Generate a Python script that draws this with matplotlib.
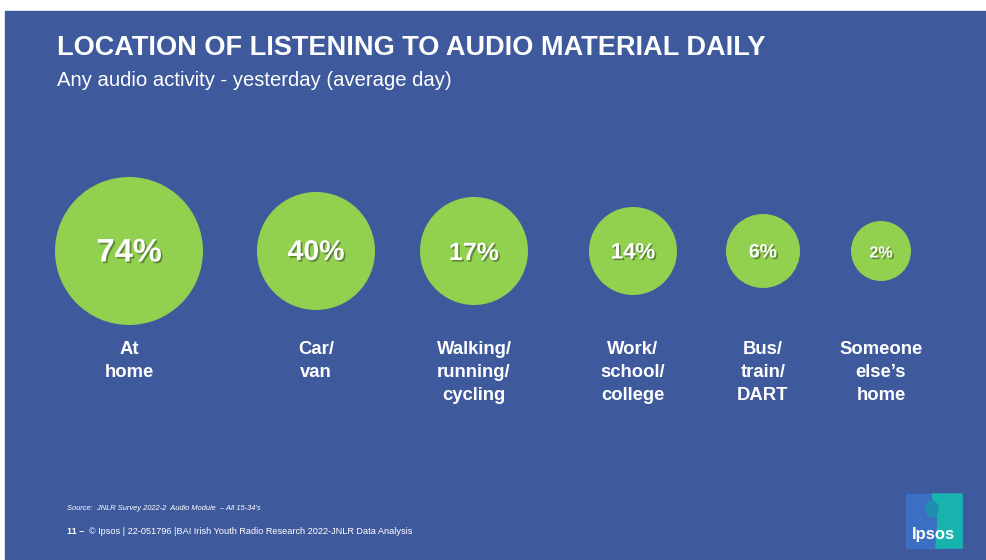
import matplotlib
matplotlib.use("Agg")
import matplotlib.pyplot as plt
from matplotlib.patches import Circle, Rectangle, Ellipse, Polygon
import matplotlib.patheffects as pe

plt.rcParams['font.family'] = ['Liberation Sans', 'DejaVu Sans']

# data
locations = ["At\nhome", "Car/\nvan", "Walking/\nrunning/\ncycling",
             "Work/\nschool/\ncollege", "Bus/\ntrain/\nDART", "Someone\nelse\u2019s\nhome"]
shares = [74, 40, 17, 14, 6, 2]

# layout (pixels)
centers_x = [129, 316, 474, 633, 763, 881]
center_y = 251
radii = [74, 59, 54, 44, 37, 30]
value_sizes = [23.5, 20.5, 18, 16, 14, 11.5]

BG = "#3F5A9C"
GREEN = "#92D050"

fig = plt.figure(figsize=(9.87, 5.6), dpi=100)
fig.patch.set_facecolor("white")
ax = fig.add_axes([0, 0, 1, 1])
ax.set_xlim(0, 987)
ax.set_ylim(560, 0)
ax.axis("off")

ax.add_patch(Rectangle((5, 11), 990, 560, color=BG, zorder=0))

ax.text(57, 48, "LOCATION OF LISTENING TO AUDIO MATERIAL DAILY", color="white",
        fontsize=19.5, fontweight="bold", va="center", ha="left")
ax.text(57, 81, "Any audio activity - yesterday (average day)", color="white",
        fontsize=14.6, va="center", ha="left")

shadow = [pe.withSimplePatchShadow(offset=(1.2, -1.2), shadow_rgbFace="black", alpha=0.35)]
for x, r, v, fs, lab in zip(centers_x, radii, shares, value_sizes, locations):
    ax.add_patch(Circle((x, center_y), r, facecolor=GREEN, edgecolor="none", zorder=2))
    ax.text(x, center_y + 2, f"{v}%", color="white", fontsize=fs, fontweight="bold",
            ha="center", va="center", zorder=3, path_effects=shadow)
    ax.text(x, 341, lab, color="white", fontsize=13.3, fontweight="bold",
            ha="center", va="top", linespacing=1.48, zorder=3)

# footer
ax.text(67, 509, "Source:  JNLR Survey 2022-2  Audio Module  \u2013 All 15-34\u2019s",
        color="white", fontsize=5.4, style="italic", va="center", ha="left")
ax.text(67, 531, "11 \u2013", color="white", fontsize=6.5, fontweight="bold",
        va="center", ha="left")
ax.text(89, 531, "\u00a9 Ipsos | 22-051796 |BAI Irish Youth Radio Research 2022-JNLR Data Analysis",
        color="white", fontsize=6.6, va="center", ha="left")

# logo
ax.add_patch(Rectangle((906, 494), 56, 54, color="#3B6FC4", zorder=2))
ax.add_patch(Polygon([(932, 494), (962, 494), (962, 548), (936, 548), (938, 520)],
                     closed=True, color="#17B3AC", zorder=2))
ax.add_patch(Ellipse((932, 509), 12, 16, color="#1E8FB0", zorder=3))
ax.text(933, 534, "Ipsos", color="white", fontsize=12, fontweight="bold",
        ha="center", va="center", zorder=4)

fig.savefig("out.png", dpi=100, facecolor=fig.get_facecolor())
